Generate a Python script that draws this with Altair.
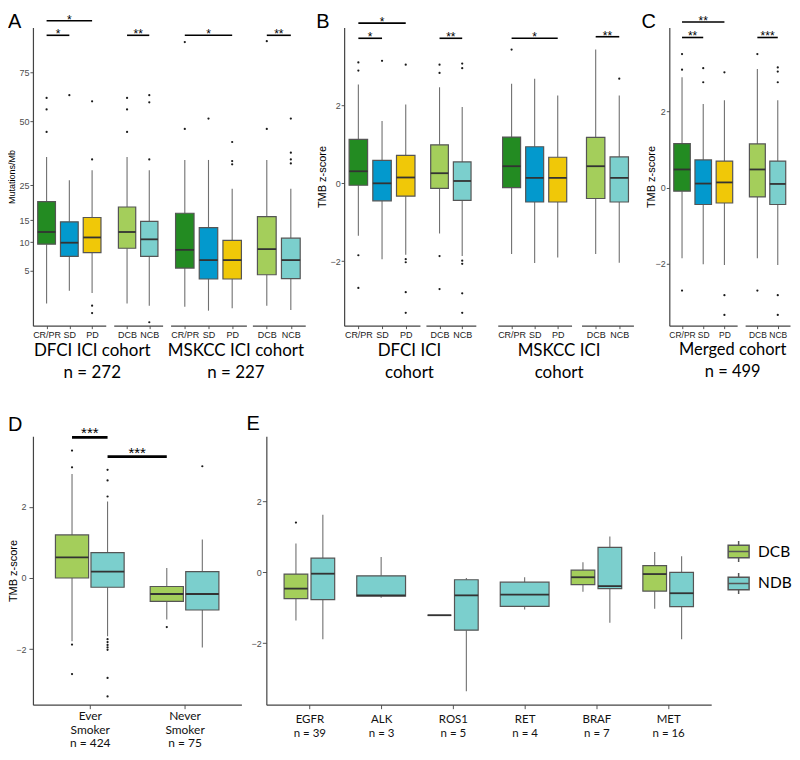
import json
import altair as alt
import pandas as pd

# ------------------------------------------------------------------ data
RESP = ["CR/PR", "SD", "PD"]
BEN = ["DCB", "NCB"]
FIVE_COLORS = ["#238B22", "#0399CD", "#F0C808", "#A4CE5B", "#7BCFCD"]

# Panel A (Mutations/Mb); order CR/PR, SD, PD, DCB, NCB
A_DFCI_Q1 = [9.6, 7.3, 8.0, 8.8, 7.3]
A_DFCI_MED = [12.2, 9.9, 11.0, 12.2, 10.6]
A_DFCI_Q3 = [20.0, 14.6, 15.7, 18.5, 14.7]
A_DFCI_LO = [1.40, 2.54, 2.31, 1.40, 1.23]
A_DFCI_HI = [35.0, 26.7, 30.1, 35.0, 30.1]
A_DFCI_OUT = [[61.3, 55.6, 45.3], [62.7], [59.6, 34.1, 1.23, 0.76],
              [61.3, 55.6, 45.3], [62.7, 59.1, 34.1, 0.33]]

A_MSKCC_Q1 = [5.41, 3.89, 3.89, 4.45, 3.95]
A_MSKCC_MED = [8.5, 6.68, 6.68, 8.64, 6.68]
A_MSKCC_Q3 = [16.8, 13.2, 10.4, 15.9, 10.85]
A_MSKCC_LO = [1.16, 0.90, 1.05, 1.23, 0.94]
A_MSKCC_HI = [33.9, 33.9, 23.9, 33.9, 23.9]
A_MSKCC_OUT = [[46.6, 92.8], [51.3], [41.0, 33.5, 32.3], [93.4, 46.6],
               [51.3, 36.7, 34.1, 32.6]]

# Panel B (TMB z-score)
B_DFCI_Q1 = [-0.05, -0.45, -0.33, -0.13, -0.44]
B_DFCI_MED = [0.31, 0.0, 0.15, 0.26, 0.06]
B_DFCI_Q3 = [1.13, 0.59, 0.72, 0.99, 0.55]
B_DFCI_LO = [-1.35, -1.95, -1.84, -1.29, -1.87]
B_DFCI_HI = [2.54, 1.60, 2.03, 2.47, 1.96]
B_DFCI_OUT = [[3.11, 2.90, -1.85, -2.69], [3.15], [3.05, -1.95, -2.03, -2.80, -3.33],
              [3.05, 2.84, -1.87, -2.72], [3.08, 2.96, -1.99, -2.07, -2.83, -3.33]]

B_MSKCC_Q1 = [-0.11, -0.48, -0.48, -0.39, -0.48]
B_MSKCC_MED = [0.44, 0.14, 0.14, 0.44, 0.14]
B_MSKCC_Q3 = [1.19, 0.94, 0.67, 1.18, 0.68]
B_MSKCC_LO = [-1.82, -2.05, -1.91, -1.82, -2.04]
B_MSKCC_HI = [2.56, 2.69, 2.26, 3.44, 2.26]
B_MSKCC_OUT = [[3.44], [], [], [], [2.69]]

# Panel C (merged cohort)
C_Q1 = [-0.09, -0.44, -0.40, -0.24, -0.44]
C_MED = [0.48, 0.11, 0.14, 0.48, 0.10]
C_Q3 = [1.16, 0.73, 0.70, 1.15, 0.70]
C_LO = [-1.85, -2.01, -2.03, -1.85, -2.03]
C_HI = [2.90, 2.20, 2.30, 3.12, 2.30]
C_OUT = [[3.51, 3.10, -2.70], [3.14, 2.77], [3.03, -2.82, -3.34], [3.51, -2.70],
         [3.16, 3.05, 2.77, -2.82, -3.34]]

# significance brackets: (from, to, level, label)
A_DFCI_SIG = [("CR/PR", "PD", 106.6, "*"), ("CR/PR", "SD", 97.1, "*"), ("DCB", "NCB", 97.1, "**")]
A_MSKCC_SIG = [("CR/PR", "PD", 97.1, "*"), ("DCB", "NCB", 97.1, "**")]
B_DFCI_SIG = [("CR/PR", "PD", 4.12, "*"), ("CR/PR", "SD", 3.73, "*"), ("DCB", "NCB", 3.73, "**")]
B_MSKCC_SIG = [("CR/PR", "PD", 3.73, "*"), ("DCB", "NCB", 3.77, "**")]
C_SIG = [("CR/PR", "PD", 4.35, "**"), ("CR/PR", "SD", 3.945, "**"), ("DCB", "NCB", 3.945, "***")]

# Panel D (smoking)
E_GROUPS = ["DCB", "NDB"]
E_COLORS = ["#A4CE5B", "#7BCFCD"]
D_CATS = ["Ever Smoker", "Never Smoker"]
D_N = [424, 75]
D_DCB_Q1 = [0.0, -0.66]
D_DCB_MED = [0.58, -0.45]
D_DCB_Q3 = [1.21, -0.24]
D_DCB_LO = [-1.78, -1.17]
D_DCB_HI = [2.92, 0.28]
D_DCB_OUT = [[3.58, 3.11, -1.87, -2.70], [-1.38]]
D_NDB_Q1 = [-0.26, -0.90]
D_NDB_MED = [0.18, -0.45]
D_NDB_Q3 = [0.71, 0.18]
D_NDB_LO = [-1.64, -1.95]
D_NDB_HI = [2.15, 1.08]
D_NDB_OUT = [[3.04, 2.74, 2.29, -1.72, -1.80, -1.88, -1.95, -2.02, -2.81, -3.33], [3.14]]
D_SIG = [(("Ever Smoker", "DCB"), ("Ever Smoker", "NDB"), 3.95, "***"),
         (("Ever Smoker", "NDB"), ("Never Smoker", "DCB"), 3.41, "***")]

# Panel E (driver mutations)
E_CATS = ["EGFR", "ALK", "ROS1", "RET", "BRAF", "MET"]
E_N = [39, 3, 5, 4, 7, 16]
E_DCB_Q1 = [-0.74, None, -1.21, None, -0.35, -0.53]
E_DCB_MED = [-0.46, None, -1.21, None, -0.14, -0.05]
E_DCB_Q3 = [-0.05, None, -1.21, None, 0.06, 0.19]
E_DCB_LO = [-1.36, None, -1.21, None, -0.55, -1.03]
E_DCB_HI = [0.81, None, -1.21, None, 0.28, 0.57]
E_DCB_OUT = [[1.40], [], [], [], [], []]
E_NDB_Q1 = [-0.77, -0.67, -1.63, -0.96, -0.46, -0.97]
E_NDB_MED = [-0.04, -0.65, -0.65, -0.63, -0.39, -0.59]
E_NDB_Q3 = [0.40, -0.10, -0.21, -0.28, 0.70, 0.0]
E_NDB_LO = [-1.89, -0.72, -3.35, -1.05, -1.42, -1.89]
E_NDB_HI = [1.62, 0.43, -0.16, -0.14, 1.01, 0.45]
E_NDB_OUT = [[], [], [], [], [], []]

# ------------------------------------------------------------------ style
BOX_LINE = "#555555"
WHISKER = "#707070"
MEDIAN = "#333333"
AXIS = "#444444"
SANS = "Liberation Sans"
CAL = "Lato"
ROW1_H = 299
ROW2_H = 269


def axis_common():
    return dict(grid=False, domainColor=AXIS, domainWidth=1.2, tickColor="#555555",
                tickWidth=1, labelFont=SANS, labelFontSize=9, labelColor="#4d4d4d",
                titleFont=SANS, titleFontWeight="normal", titleColor="#000000",
                labelOverlap=False, labelFlush=False)


def box_rows(keys, positions, halves, colors, q1, med, q3, lo, hi, outs, groups):
    rows, orows = [], []
    for i in range(len(keys)):
        if q1[i] is None:
            continue
        p, h = positions[i], halves[i]
        rows.append({"grp": groups[i], "pos": p, "left": p - h, "right": p + h,
                     "q1": q1[i], "med": med[i], "q3": q3[i], "lo": lo[i], "hi": hi[i],
                     "color": colors[i]})
        for v in outs[i]:
            orows.append({"pos": p, "val": v})
    return pd.DataFrame(rows), pd.DataFrame(orows, columns=["pos", "val"])


def build(bdf, odf, sdf, xs, xaxis, ys, yaxis, width, height, fill,
          sig_w=1.6, star_size=12, star_dy=3, letter=None, lxy=(-25, 0.5)):
    X = lambda f: alt.X(f"{f}:Q", scale=xs, axis=xaxis)
    Y = lambda f: alt.Y(f"{f}:Q", scale=ys, axis=yaxis)
    layers = [
        alt.Chart(bdf).mark_rule(color=WHISKER, strokeWidth=1.1).encode(x=X("pos"), y=Y("q3"), y2="hi"),
        alt.Chart(bdf).mark_rule(color=WHISKER, strokeWidth=1.1).encode(x=X("pos"), y=Y("lo"), y2="q1"),
        alt.Chart(bdf).mark_bar(stroke=BOX_LINE, strokeWidth=1.2, opacity=1).encode(
            x=X("left"), x2="right", y=Y("q1"), y2="q3", fill=fill),
        alt.Chart(bdf).mark_rule(color=MEDIAN, strokeWidth=1.8).encode(x=X("left"), x2="right", y=Y("med")),
    ]
    if len(odf):
        layers.append(alt.Chart(odf).mark_circle(size=5, color="#1a1a1a", opacity=1).encode(
            x=X("pos"), y=Y("val")))
    if sdf is not None and len(sdf):
        layers.append(alt.Chart(sdf).mark_rule(color="#000000", strokeWidth=sig_w).encode(
            x=X("x1"), x2="x2", y=Y("lev")))
        layers.append(alt.Chart(sdf).mark_text(baseline="alphabetic", dy=star_dy, fontSize=star_size,
                                               font=SANS, color="#000000").encode(
            x=X("mid"), y=Y("lev"), text="lab:N"))
    if letter:
        layers.append(alt.Chart(pd.DataFrame({"t": [letter]})).mark_text(
            align="left", baseline="alphabetic", fontSize=20, font=SANS, color="#000000").encode(
            x=alt.value(lxy[0]), y=alt.value(lxy[1]), text="t:N"))
    return alt.layer(*layers).properties(width=width, height=height)


def top_facet(cats, sl, stats, sigs, width, rng, ys, yaxis, title=None, tx=0, ty=17,
              tsize=17, tlh=22, letter=None, lxy=(-25, 0.5), lsize=9):
    n = len(cats)
    q1, med, q3, lo, hi, out = [s[sl] for s in stats]
    pos = list(range(1, n + 1))
    bdf, odf = box_rows(cats, pos, [0.39] * n, FIVE_COLORS[sl], q1, med, q3, lo, hi, out, cats)
    srows = [{"x1": cats.index(a) + 1, "x2": cats.index(b) + 1, "lev": lev, "lab": lab}
             for a, b, lev, lab in sigs if a in cats]
    sdf = pd.DataFrame(srows, columns=["x1", "x2", "lev", "lab"])
    if len(sdf):
        sdf["mid"] = (sdf["x1"] + sdf["x2"]) / 2
    xs = alt.Scale(domain=[0.4, n + 0.6], range=[0, rng], nice=False, zero=False)
    kw = axis_common()
    kw.update(labelFontSize=lsize, labelColor="#1a1a1a", tickSize=3, labelPadding=2)
    if title:
        kw.update(title=title, titleX=tx, titleY=ty, titleFont=CAL, titleFontSize=tsize,
                  titleLineHeight=tlh, titleBaseline="top", titleAlign="center")
    else:
        kw.update(title=None)
    xaxis = alt.Axis(values=pos, labelExpr=json.dumps(cats) + "[datum.value-1]", **kw)
    return build(bdf, odf, sdf, xs, xaxis, ys, yaxis, width, ROW1_H,
                 alt.Fill("color:N", scale=None), letter=letter, lxy=lxy)


def yaxis(values, title, tx, tsize=11, tick=3, pad=1):
    kw = axis_common()
    kw.update(values=values, tickSize=tick, labelPadding=pad)
    if title:
        kw.update(title=title, titleX=tx, titleFontSize=tsize)
    else:
        kw.update(title=None)
    return alt.Axis(**kw)


YA = alt.Scale(type="sqrt", domain=[0.216, 102.2], nice=False, zero=False)
YB = alt.Scale(domain=[-3.66, 4.01], nice=False, zero=False)
YC = alt.Scale(domain=[-3.62, 4.21], nice=False, zero=False)
YD = alt.Scale(domain=[-3.56, 3.98], nice=False, zero=False)
YE = alt.Scale(domain=[-3.73, 3.83], nice=False, zero=False)

A_DFCI = [A_DFCI_Q1, A_DFCI_MED, A_DFCI_Q3, A_DFCI_LO, A_DFCI_HI, A_DFCI_OUT]
A_MSKCC = [A_MSKCC_Q1, A_MSKCC_MED, A_MSKCC_Q3, A_MSKCC_LO, A_MSKCC_HI, A_MSKCC_OUT]
B_DFCI = [B_DFCI_Q1, B_DFCI_MED, B_DFCI_Q3, B_DFCI_LO, B_DFCI_HI, B_DFCI_OUT]
B_MSKCC = [B_MSKCC_Q1, B_MSKCC_MED, B_MSKCC_Q3, B_MSKCC_LO, B_MSKCC_HI, B_MSKCC_OUT]
C_ALL = [C_Q1, C_MED, C_Q3, C_LO, C_HI, C_OUT]
R, Bn = slice(0, 3), slice(3, 5)

yA = yaxis([5, 10, 15, 25, 50, 75], "Mutations/Mb", -16, tsize=9)
yB = yaxis([-2, 0, 2], "TMB z-score", -17)
yC = yaxis([-2, 0, 2], "TMB z-score", -13)

top = [
    top_facet(RESP, R, A_DFCI, A_DFCI_SIG, 81, 73, YA, yA, ["DFCI ICI cohort", "n = 272"], 59,
              letter="A", lxy=(-25, 0.5)),
    top_facet(BEN, Bn, A_DFCI, A_DFCI_SIG, 57, 49, YA, None),
    top_facet(RESP, R, A_MSKCC, A_MSKCC_SIG, 82, 76, YA, None, ["MSKCC ICI cohort", "n = 227"], 65),
    top_facet(BEN, Bn, A_MSKCC, A_MSKCC_SIG, 92, 53, YA, None),
    top_facet(RESP, R, B_DFCI, B_DFCI_SIG, 82, 76, YB, yB, ["DFCI ICI", "cohort"], 65,
              letter="B", lxy=(-28, 0.5)),
    top_facet(BEN, Bn, B_DFCI, B_DFCI_SIG, 72, 50, YB, None),
    top_facet(RESP, R, B_MSKCC, B_MSKCC_SIG, 84, 74, YB, None, ["MSKCC ICI", "cohort"], 61),
    top_facet(BEN, Bn, B_MSKCC, B_MSKCC_SIG, 88, 52, YB, None),
    top_facet(RESP, R, C_ALL, C_SIG, 76, 68, YC, yC, ["Merged cohort", "n = 499"], 63, ty=16,
              tsize=16.5, tlh=22, letter="C", lxy=(-28, 0.5), lsize=8.5),
    top_facet(BEN, Bn, C_ALL, C_SIG, 45, 45, YC, None, lsize=8.5),
]


# ------------------------------------------------------------------ dodged panels
def dodged(cats, dcb, ndb):
    keys, pos, halves, colors, groups = [], [], [], [], []
    q = {k: [] for k in ["q1", "med", "q3", "lo", "hi", "out"]}
    lookup = {}
    for i, c in enumerate(cats):
        present = [g for g, st in (("DCB", dcb), ("NDB", ndb)) if st[0][i] is not None]
        for g, st in (("DCB", dcb), ("NDB", ndb)):
            if st[0][i] is None:
                continue
            if len(present) == 2:
                p = i + 1 + (-0.1875 if g == "DCB" else 0.1875)
                h = "pair"
            else:
                p = i + 1
                h = "single"
            keys.append((c, g)); pos.append(p); groups.append(g)
            halves.append(h)
            colors.append(E_COLORS[E_GROUPS.index(g)])
            for k, v in zip(["q1", "med", "q3", "lo", "hi", "out"], st):
                q[k].append(v[i])
            lookup[(c, g)] = p
    return keys, pos, halves, colors, groups, q, lookup


# D
keys, pos, halves, colors, groups, q, lookup = dodged(
    D_CATS,
    [D_DCB_Q1, D_DCB_MED, D_DCB_Q3, D_DCB_LO, D_DCB_HI, D_DCB_OUT],
    [D_NDB_Q1, D_NDB_MED, D_NDB_Q3, D_NDB_LO, D_NDB_HI, D_NDB_OUT])
halves = [0.175 for _ in halves]
dB, dO = box_rows(keys, pos, halves, colors, q["q1"], q["med"], q["q3"], q["lo"], q["hi"], q["out"], groups)
dS = pd.DataFrame([{"x1": lookup[a], "x2": lookup[b], "lev": lev, "lab": lab} for a, b, lev, lab in D_SIG])
dS["mid"] = (dS["x1"] + dS["x2"]) / 2
d_labels = [c.split(" ") + [f"n = {n}"] for c, n in zip(D_CATS, D_N)]
kw = axis_common()
kw.update(values=[1, 2], labelExpr=json.dumps(d_labels) + "[datum.value-1]", title=None,
          labelFont=CAL, labelFontSize=12, labelColor="#111111", labelLineHeight=13.5,
          tickSize=4, labelPadding=2)
dX = alt.Axis(**kw)
dxs = alt.Scale(domain=[0.4, 2.6], range=[0, 209], nice=False, zero=False)
yD = yaxis([-2, 0, 2], "TMB z-score", -14, tick=4, pad=3)
D = build(dB, dO, dS, dxs, dX, YD, yD, 234, ROW2_H, alt.Fill("color:N", scale=None),
          sig_w=2.8, star_size=15, star_dy=1, letter="D", lxy=(-25, -5))

# E
keys, pos, halves, colors, groups, q, lookup = dodged(
    E_CATS,
    [E_DCB_Q1, E_DCB_MED, E_DCB_Q3, E_DCB_LO, E_DCB_HI, E_DCB_OUT],
    [E_NDB_Q1, E_NDB_MED, E_NDB_Q3, E_NDB_LO, E_NDB_HI, E_NDB_OUT])
halves = [0.34 if h == "single" else 0.165 for h in halves]
eB, eO = box_rows(keys, pos, halves, colors, q["q1"], q["med"], q["q3"], q["lo"], q["hi"], q["out"], groups)
e_labels = [[c, f"n = {n}"] for c, n in zip(E_CATS, E_N)]
kw = axis_common()
kw.update(values=list(range(1, 7)), labelExpr=json.dumps(e_labels) + "[datum.value-1]", title=None,
          labelFont=CAL, labelFontSize=11.5, labelColor="#111111", labelLineHeight=14.3,
          tickSize=4, labelPadding=5)
eX = alt.Axis(**kw)
exs = alt.Scale(domain=[0.4, 6.6], range=[0, 446], nice=False, zero=False)
yE = yaxis([-2, 0, 2], None, 0, tick=4, pad=1)
BOXGLYPH = "M-1,-0.6H1V0.6H-1Z M-1,0H1 M0,-0.6V-1 M0,0.6V1"
# legend sits in the bottom row's group (origin = panel D plot corner)
eFill = alt.Fill("grp:N", scale=alt.Scale(domain=E_GROUPS, range=E_COLORS),
                 legend=alt.Legend(title=None, orient="none", legendX=696, legendY=104,
                                   symbolType=BOXGLYPH, symbolSize=441,
                                   symbolStrokeColor="#555555", symbolStrokeWidth=1.5,
                                   labelFont=CAL, labelFontSize=15.5, labelColor="#000000",
                                   labelOffset=8, rowPadding=5, padding=0))
E = build(eB, eO, None, exs, eX, YE, yE, 446, ROW2_H, eFill, letter="E", lxy=(-20, -6))

row1 = alt.HConcatChart(hconcat=top, spacing=0, bounds="flush")
row2 = alt.HConcatChart(hconcat=[D, E], spacing=0, bounds="flush")

chart = alt.VConcatChart(
    vconcat=[row1, row2],
    spacing=34,
    padding={"top": 2.5, "left": 0, "right": 0, "bottom": 0},
    background="white",
).resolve_scale(fill="independent").configure_view(stroke=None)

chart.save("out.html", embed_options={"renderer": "svg", "actions": False})
